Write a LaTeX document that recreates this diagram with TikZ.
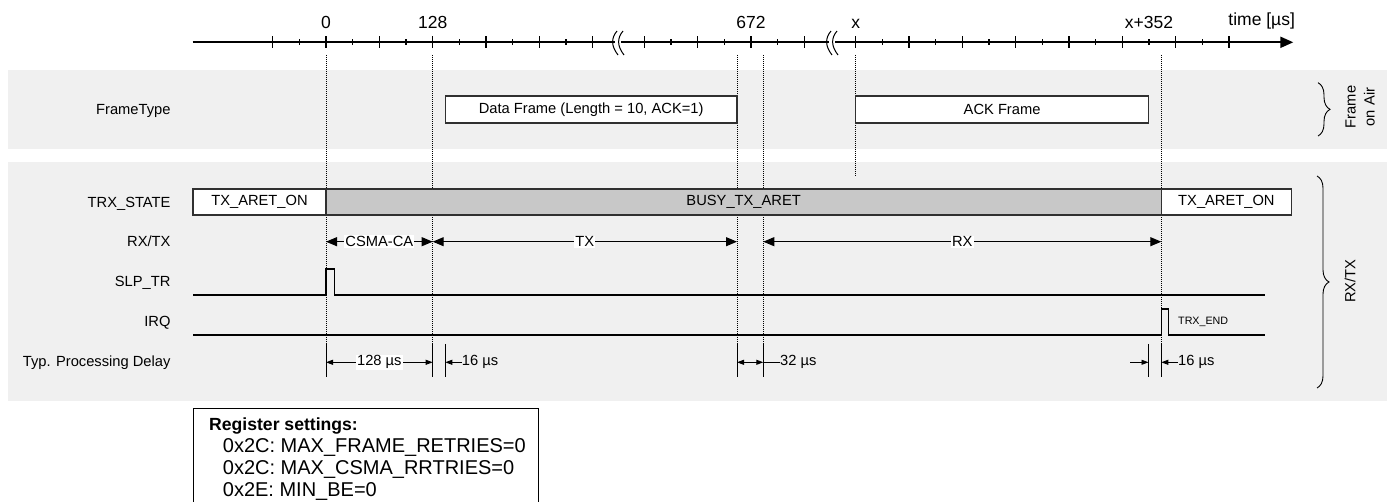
\documentclass[tikz,border=0pt]{standalone}
\usepackage{fontspec}
\setmainfont{Liberation Sans}
\usetikzlibrary{arrows.meta,decorations.pathreplacing}
\definecolor{bandgrey}{HTML}{F0F0F0}
\definecolor{busygrey}{HTML}{C8C8C8}
\definecolor{boxgrey}{HTML}{303030}

\begin{document}
\begin{tikzpicture}[x=1pt, y=-1pt,
        every node/.style={font=\fontsize{14.7}{17}\selectfont},
        axisfont/.style={font=\fontsize{17.5}{20}\selectfont},
        regfont/.style={font=\fontsize{20}{22}\selectfont},
        lbl/.style={anchor=base east},
        guide/.style={line width=0.9pt, dash pattern=on 1pt off 1pt},
        sig/.style={line width=1.3pt},
        ext/.style={line width=1pt},
        stbox/.style={draw=boxgrey, line width=1.2pt, minimum height=26pt, inner sep=0pt},
        frm/.style={draw=boxgrey, line width=1.2pt, fill=white, minimum height=27pt, inner sep=0pt},
        dimarrow/.style={line width=1pt, {Triangle[length=11pt,width=9pt]}-{Triangle[length=11pt,width=9pt]}},
        dly/.style={line width=0.9pt, {Triangle[length=7pt,width=5pt]}-{Triangle[length=7pt,width=5pt]}},
        dlyto/.style={line width=0.9pt, -{Triangle[length=7pt,width=5pt]}},
        gaplabel/.style={fill=white, inner sep=1pt},
        bracemark/.style={line width=0.9pt, decorate, decoration={brace, amplitude=12pt}}]
        \useasboundingbox (0,0) rectangle (1387,502);

        % grey bands
        \fill [bandgrey] (8,70) rectangle (1387,149.3);
        \fill [bandgrey] (8,161.7) rectangle (1387,401);

        % time axis
        \node [inner sep=0pt] at (192,42.3) (a0) {};
        \node [inner sep=0pt] at (1294,42.3) (a1) {};
        \draw [line width=2pt, -{Triangle[length=13pt,width=11pt]}] (a0) -- (a1);
        \foreach \s/\n in {272.7/12, 644.3/6, 855.7/14}
            \foreach \k in {0,...,\n} {
                \pgfmathsetmacro{\h}{isodd(\k) ? 3.2 : 5.8}
                \draw [line width=1.2pt] ({\s+\k*26.667}, {42.3-\h}) -- ({\s+\k*26.667}, {42.3+\h});
            }
        \foreach \b in {615, 829} {
            \fill [white] (\b,37) rectangle (\b+6,48);
            \draw [line width=1pt] (\b+2,31) .. controls (\b-4,38) and (\b-4,46) .. (\b+3,55);
            \draw [line width=1pt] (\b+8,31) .. controls (\b+2,38) and (\b+2,46) .. (\b+9,55);
        }

        \coordinate (t0) at (326,42.3);
        \coordinate (t128) at (432.7,42.3);
        \coordinate (td) at (445.3,42.3);
        \coordinate (te) at (737,42.3);
        \coordinate (tr) at (763.3,42.3);
        \coordinate (tx) at (855.7,42.3);
        \coordinate (ta) at (1148.5,42.3);
        \coordinate (tf) at (1161.3,42.3);
        \coordinate (gtop) at (0,55);
        \coordinate (gbot) at (0,377);
        \coordinate (xbot) at (0,177);
        \coordinate (dtop) at (0,344);
        \coordinate (rrow) at (0,241.7);
        \coordinate (drow) at (0,362.3);

        \node [axisfont, anchor=base] at (326,28.3) (l0) {0};
        \node [axisfont, anchor=base] at (432.7,28.3) (l128) {128};
        \node [axisfont, anchor=base] at (751,28.3) (l672) {672};
        \node [axisfont, anchor=base] at (855.7,28.3) (lx) {x};
        \node [axisfont, anchor=base] at (1149,28.3) (lx352) {x+352};
        \node [axisfont, anchor=base] at (1261.7,25.5) (ltime) {time [µs]};

        % guide lines
        \foreach \tm in {t0, t128, te, tr, tf}
            \draw [guide] (\tm |- gtop) -- (\tm |- gbot);
        \draw [guide] (tx |- gtop) -- (tx |- xbot);
        \foreach \tm in {t0, t128, td, te, tr, ta, tf}
            \draw [ext] (\tm |- dtop) -- (\tm |- gbot);

        % row names
        \node [lbl] at (174,114.6) (nframe) {FrameType};
        \node [lbl] at (174,208) (nstate) {TRX\_STATE};
        \node [lbl] at (174,247) (nrxtx) {RX/TX};
        \node [lbl] at (174,287) (nslp) {SLP\_TR};
        \node [lbl] at (174,327) (nirq) {IRQ};
        \node [lbl] at (174,367) (ndelay) {Typ. Processing Delay};

        % frames on air
        \node [frm, minimum width=291.7pt] at (591.15,109.5) (fdata) {Data Frame (Length = 10, ACK=1)};
        \node [frm, minimum width=292.8pt] at (1002.1,109.5) (fack) {ACK Frame};

        % trx state
        \node [stbox, fill=white, minimum width=133pt] at (259.5,202) (s1) {TX\_ARET\_ON};
        \node [stbox, fill=busygrey, minimum width=835.3pt] at (743.65,202) (s2) {BUSY\_TX\_ARET};
        \node [stbox, fill=white, minimum width=130.2pt] at (1226.4,202) (s3) {TX\_ARET\_ON};

        % rx/tx
        \draw [dimarrow] (t0 |- rrow) -- node [gaplabel] {CSMA-CA} (t128 |- rrow);
        \draw [dimarrow] (t128 |- rrow) -- node [gaplabel] {TX} (te |- rrow);
        \draw [dimarrow] (tr |- rrow) -- node [gaplabel] {RX} (tf |- rrow);

        % slp_tr and irq
        \draw [sig] (193,295) -- (326,295) -- (326,269) -- (334.3,269) -- (334.3,295) -- (1265,295);
        \draw [sig] (193,335) -- (1161.3,335) -- (1161.3,309) -- (1168.5,309) -- (1168.5,335) -- (1265,335);
        \node [font=\fontsize{10.7}{12}\selectfont, anchor=west, inner sep=0pt] at (1178,322) (irqend) {TRX\_END};

        % processing delays
        \draw [dly] (t0 |- drow) -- node [gaplabel] {128 µs} (t128 |- drow);
        \node [anchor=west, inner sep=0pt] at (461.7,362.3) (d16a) {16 µs};
        \draw [dlyto] (d16a.west) -- (td |- d16a.west);
        \draw [dly] (te |- drow) -- (tr |- drow);
        \node [anchor=west, inner sep=0pt] at (780,362.3) (d32) {32 µs};
        \draw [ext] (tr |- d32.west) -- (d32.west);
        \coordinate (d16c) at (1130,362.3);
        \draw [dlyto] (d16c) -- (ta |- drow);
        \node [anchor=west, inner sep=0pt] at (1178,362.3) (d16b) {16 µs};
        \draw [dlyto] (d16b.west) -- (tf |- d16b.west);

        % braces
        \draw [bracemark] (1318,82.7) -- (1318,136);
        \node [rotate=90, align=center, font=\fontsize{14.7}{19}\selectfont] at (1360,107) (air) {Frame\\on Air};
        \draw [bracemark] (1317,176) -- (1317,388);
        \node [rotate=90] at (1350,281) (rxtxb) {RX/TX};

        % register settings
        \draw [line width=1pt] (193.3,505) -- (193.3,409) -- (538.3,409) -- (538.3,505);
        \node [anchor=base west, inner sep=0pt, font=\bfseries\fontsize{17.6}{20}\selectfont] at (209,431) (reg) {Register settings:};
        \node [regfont, anchor=base west, inner sep=0pt] at (222.7,453) (reg1) {0x2C: MAX\_FRAME\_RETRIES=0};
        \node [regfont, anchor=base west, inner sep=0pt] at (222.7,474.5) (reg2) {0x2C: MAX\_CSMA\_RRTRIES=0};
        \node [regfont, anchor=base west, inner sep=0pt] at (222.7,496) (reg3) {0x2E: MIN\_BE=0};
\end{tikzpicture}
\end{document}
